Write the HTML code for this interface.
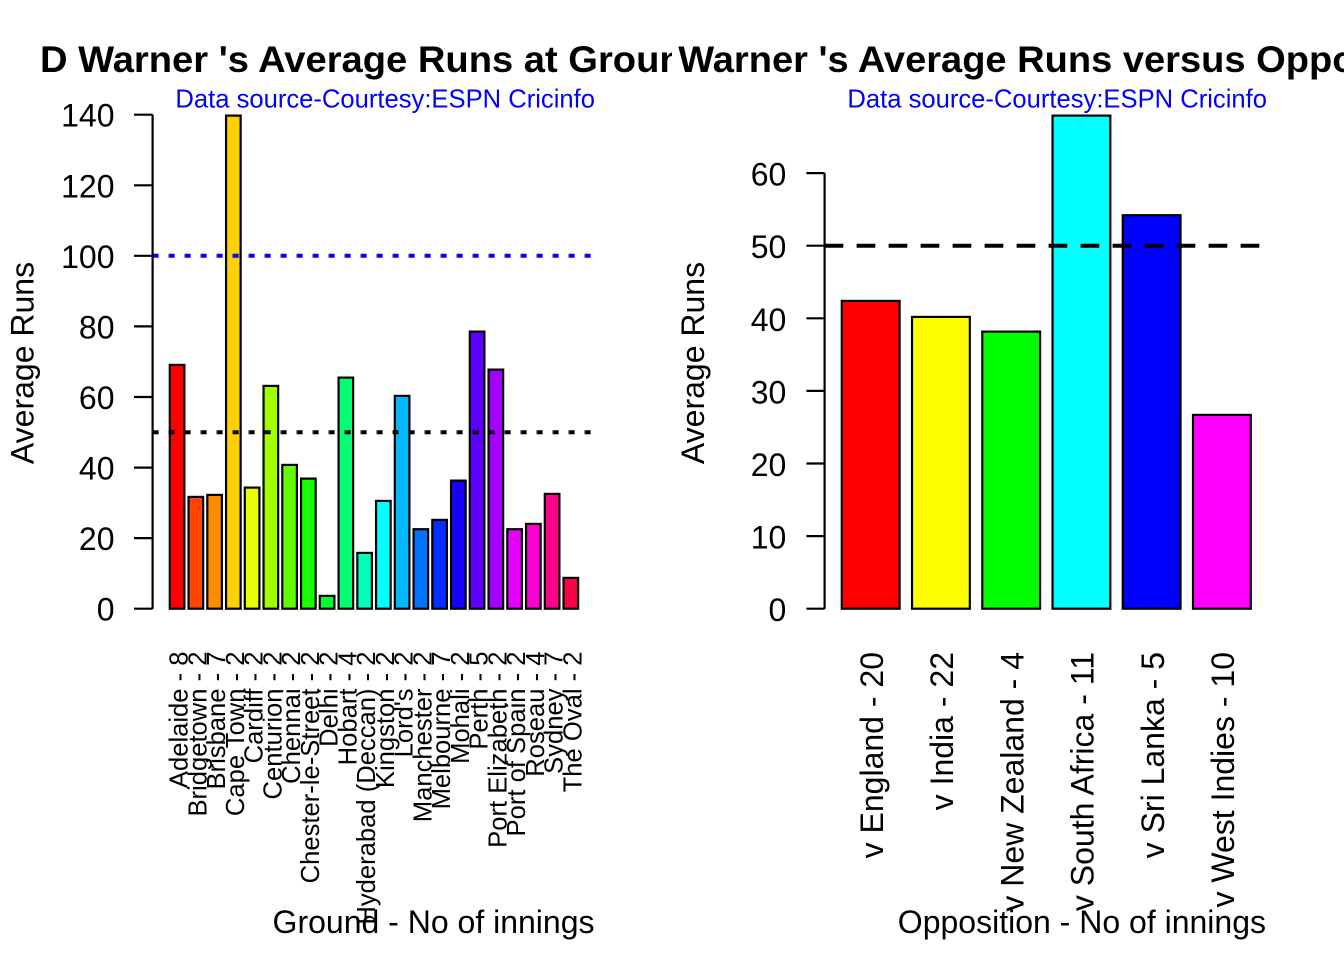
<!DOCTYPE html>
<html>
<head>
<meta charset="utf-8">
<style>
html,body{margin:0;padding:0;background:#fff;}
svg{display:block;}
text{font-family:"Liberation Sans",Arial,sans-serif;}
</style>
</head>
<body>
<svg width="1344" height="960" viewBox="0 0 1344 960" xmlns="http://www.w3.org/2000/svg">
<defs>
<clipPath id="cl"><rect x="0" y="0" width="672" height="960"/></clipPath>
<clipPath id="cr"><rect x="672" y="0" width="672" height="960"/></clipPath>
</defs>
<rect width="1344" height="960" fill="#fff"/>

<!-- ================= LEFT PANEL ================= -->
<g clip-path="url(#cl)">
<text x="40" y="72" font-size="37" font-weight="bold" fill="#000" textLength="666" lengthAdjust="spacingAndGlyphs">D Warner 's Average Runs at Ground</text>
</g>
<text x="595" y="107.5" font-size="25.6" fill="#0000FF" text-anchor="end">Data source-Courtesy:ESPN Cricinfo</text>

<!-- bars -->
<g stroke="#000" stroke-width="2.2">
<rect x="169.8" y="364.9" width="14.6" height="243.8" fill="#FF0000"/>
<rect x="188.55" y="496.9" width="14.6" height="111.8" fill="#FF4600"/>
<rect x="207.3" y="494.9" width="14.6" height="113.8" fill="#FF8B00"/>
<rect x="226.05" y="115.6" width="14.6" height="493.1" fill="#FFD100"/>
<rect x="244.8" y="487.6" width="14.6" height="121.1" fill="#E8FF00"/>
<rect x="263.55" y="385.9" width="14.6" height="222.8" fill="#A2FF00"/>
<rect x="282.3" y="464.9" width="14.6" height="143.8" fill="#5DFF00"/>
<rect x="301.05" y="478.6" width="14.6" height="130.1" fill="#17FF00"/>
<rect x="319.8" y="595.9" width="14.6" height="12.8" fill="#00FF2E"/>
<rect x="338.55" y="377.6" width="14.6" height="231.1" fill="#00FF74"/>
<rect x="357.3" y="552.9" width="14.6" height="55.8" fill="#00FFB9"/>
<rect x="376.05" y="500.9" width="14.6" height="107.8" fill="#00FFFF"/>
<rect x="394.8" y="395.9" width="14.6" height="212.8" fill="#00B9FF"/>
<rect x="413.55" y="529.2" width="14.6" height="79.5" fill="#0074FF"/>
<rect x="432.3" y="519.9" width="14.6" height="88.8" fill="#002EFF"/>
<rect x="451.05" y="480.6" width="14.6" height="128.1" fill="#1700FF"/>
<rect x="469.8" y="331.6" width="14.6" height="277.1" fill="#5D00FF"/>
<rect x="488.55" y="369.6" width="14.6" height="239.1" fill="#A200FF"/>
<rect x="507.3" y="529.2" width="14.6" height="79.5" fill="#E800FF"/>
<rect x="526.05" y="523.9" width="14.6" height="84.8" fill="#FF00D1"/>
<rect x="544.8" y="493.9" width="14.6" height="114.8" fill="#FF008B"/>
<rect x="563.55" y="577.9" width="14.6" height="30.8" fill="#FF0046"/>
</g>

<!-- reference lines -->
<line x1="152.6" y1="255.8" x2="594.4" y2="255.8" stroke="#0000FF" stroke-width="4" stroke-dasharray="6 10"/>
<line x1="152.6" y1="432.3" x2="594.4" y2="432.3" stroke="#000" stroke-width="4" stroke-dasharray="6 10"/>

<!-- y axis -->
<g stroke="#000" stroke-width="2.2" fill="none">
<line x1="152.6" y1="114.7" x2="152.6" y2="608.7"/>
<line x1="134" y1="608.7" x2="152.6" y2="608.7"/>
<line x1="134" y1="538.1" x2="152.6" y2="538.1"/>
<line x1="134" y1="467.6" x2="152.6" y2="467.6"/>
<line x1="134" y1="397.0" x2="152.6" y2="397.0"/>
<line x1="134" y1="326.4" x2="152.6" y2="326.4"/>
<line x1="134" y1="255.8" x2="152.6" y2="255.8"/>
<line x1="134" y1="185.3" x2="152.6" y2="185.3"/>
<line x1="134" y1="114.7" x2="152.6" y2="114.7"/>
</g>
<g font-size="32" fill="#000" text-anchor="end">
<text x="114.5" y="620.7">0</text>
<text x="114.5" y="550.1">20</text>
<text x="114.5" y="479.6">40</text>
<text x="114.5" y="409.0">60</text>
<text x="114.5" y="338.4">80</text>
<text x="114.5" y="267.8">100</text>
<text x="114.5" y="197.3">120</text>
<text x="114.5" y="126.7">140</text>
</g>

<text transform="translate(33.5,363) rotate(-90)" font-size="32" fill="#000" text-anchor="middle">Average Runs</text>

<!-- x labels left -->
<g font-size="25.6" fill="#000" text-anchor="end">
<text transform="translate(187.6,651.5) rotate(-90)">Adelaide - 8</text>
<text transform="translate(206.35,651.5) rotate(-90)">Bridgetown - 2</text>
<text transform="translate(225.1,651.5) rotate(-90)">Brisbane - 7</text>
<text transform="translate(243.85,651.5) rotate(-90)">Cape Town - 2</text>
<text transform="translate(262.6,651.5) rotate(-90)">Cardiff - 2</text>
<text transform="translate(281.35,651.5) rotate(-90)">Centurion - 2</text>
<text transform="translate(300.1,651.5) rotate(-90)">Chennai - 2</text>
<text transform="translate(318.85,651.5) rotate(-90)">Chester-le-Street - 2</text>
<text transform="translate(337.6,651.5) rotate(-90)">Delhi - 2</text>
<text transform="translate(356.35,651.5) rotate(-90)">Hobart - 4</text>
<text transform="translate(375.1,651.5) rotate(-90)">Hyderabad (Deccan) - 2</text>
<text transform="translate(393.85,651.5) rotate(-90)">Kingston - 2</text>
<text transform="translate(412.6,651.5) rotate(-90)">Lord's - 2</text>
<text transform="translate(431.35,651.5) rotate(-90)">Manchester - 2</text>
<text transform="translate(450.1,651.5) rotate(-90)">Melbourne - 7</text>
<text transform="translate(468.85,651.5) rotate(-90)">Mohali - 2</text>
<text transform="translate(487.6,651.5) rotate(-90)">Perth - 5</text>
<text transform="translate(506.35,651.5) rotate(-90)">Port Elizabeth - 2</text>
<text transform="translate(525.1,651.5) rotate(-90)">Port of Spain - 2</text>
<text transform="translate(543.85,651.5) rotate(-90)">Roseau - 4</text>
<text transform="translate(562.6,651.5) rotate(-90)">Sydney - 7</text>
<text transform="translate(581.35,651.5) rotate(-90)">The Oval - 2</text>
</g>

<text x="594.5" y="933" font-size="32" fill="#000" text-anchor="end">Ground - No of innings</text>

<!-- ================= RIGHT PANEL ================= -->
<g clip-path="url(#cr)">
<text x="640.2" y="72" font-size="37" font-weight="bold" fill="#000" textLength="816.7" lengthAdjust="spacingAndGlyphs">D Warner 's Average Runs versus Opposition</text>
</g>
<text x="1267" y="107.5" font-size="25.6" fill="#0000FF" text-anchor="end">Data source-Courtesy:ESPN Cricinfo</text>

<g stroke="#000" stroke-width="2.2">
<rect x="841.8" y="300.9" width="57.8" height="307.8" fill="#FF0000"/>
<rect x="912.04" y="316.9" width="57.8" height="291.8" fill="#FFFF00"/>
<rect x="982.28" y="331.6" width="57.8" height="277.1" fill="#00FF00"/>
<rect x="1052.52" y="115.6" width="57.8" height="493.1" fill="#00FFFF"/>
<rect x="1122.76" y="215.2" width="57.8" height="393.5" fill="#0000FF"/>
<rect x="1193.0" y="414.9" width="57.8" height="193.8" fill="#FF00FF"/>
</g>

<line x1="824.6" y1="245.7" x2="1266.8" y2="245.7" stroke="#000" stroke-width="4" stroke-dasharray="18.7 13.3"/>

<g stroke="#000" stroke-width="2.2" fill="none">
<line x1="824.6" y1="173.1" x2="824.6" y2="608.7"/>
<line x1="806.4" y1="608.7" x2="824.6" y2="608.7"/>
<line x1="806.4" y1="536.1" x2="824.6" y2="536.1"/>
<line x1="806.4" y1="463.5" x2="824.6" y2="463.5"/>
<line x1="806.4" y1="390.9" x2="824.6" y2="390.9"/>
<line x1="806.4" y1="318.3" x2="824.6" y2="318.3"/>
<line x1="806.4" y1="245.7" x2="824.6" y2="245.7"/>
<line x1="806.4" y1="173.1" x2="824.6" y2="173.1"/>
</g>
<g font-size="32" fill="#000" text-anchor="end">
<text x="786.3" y="621.2">0</text>
<text x="786.3" y="548.6">10</text>
<text x="786.3" y="476.0">20</text>
<text x="786.3" y="403.4">30</text>
<text x="786.3" y="330.8">40</text>
<text x="786.3" y="258.2">50</text>
<text x="786.3" y="185.6">60</text>
</g>

<text transform="translate(704,363) rotate(-90)" font-size="32" fill="#000" text-anchor="middle">Average Runs</text>

<g font-size="32" fill="#000" text-anchor="end">
<text transform="translate(883,652) rotate(-90)">v England - 20</text>
<text transform="translate(953.2,652) rotate(-90)">v India - 22</text>
<text transform="translate(1023.5,652) rotate(-90)">v New Zealand - 4</text>
<text transform="translate(1093.7,652) rotate(-90)">v South Africa - 11</text>
<text transform="translate(1164,652) rotate(-90)">v Sri Lanka - 5</text>
<text transform="translate(1234.2,652) rotate(-90)">v West Indies - 10</text>
</g>

<text x="1266" y="933" font-size="32" fill="#000" text-anchor="end">Opposition - No of innings</text>
</svg>
</body>
</html>
